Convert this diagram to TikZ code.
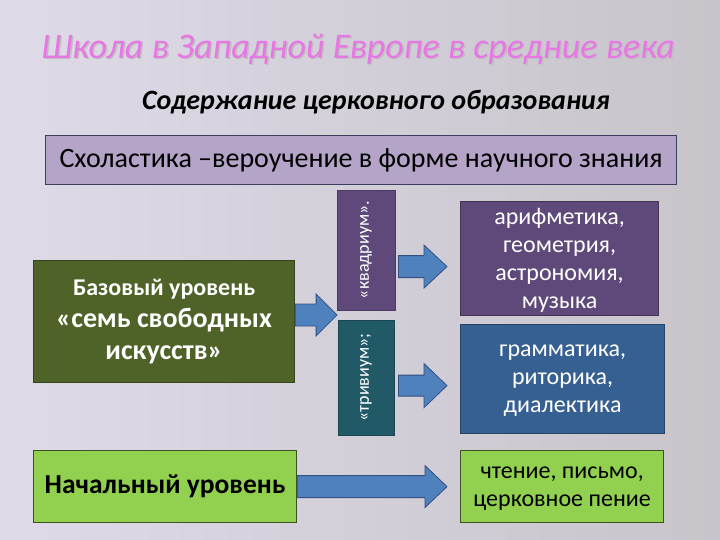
\documentclass[tikz,border=0pt]{standalone}
\usepackage{fontspec}
\setmainfont{Carlito}
\usetikzlibrary{calc}
\definecolor{bgl}{RGB}{222,218,232}
\definecolor{bgr}{RGB}{200,196,202}
\definecolor{titlec}{RGB}{232,118,228}
\definecolor{lav}{RGB}{180,164,200}
\definecolor{lavb}{RGB}{60,62,95}
\definecolor{olive}{RGB}{79,98,40}
\definecolor{purp}{RGB}{95,73,122}
\definecolor{teal}{RGB}{33,89,103}
\definecolor{bluebox}{RGB}{54,96,146}
\definecolor{lgreen}{RGB}{146,208,80}
\definecolor{arrf}{RGB}{79,129,189}
\definecolor{arrd}{RGB}{50,80,130}
\tikzset{
  box/.style={draw=#1, line width=1.2pt, rectangle, inner sep=2pt, align=center, anchor=north west},
  arr/.style={fill=arrf, draw=arrd, line width=0.8pt, line join=miter},
}
\newcommand\fatarrow[5]{%
  \draw[arr] ($(#1 |- #2)+(0,#3)$) -- ($(#2)+(-#5,#3)$) -- ($(#2)+(-#5,#4)$) -- (#2)
    -- ($(#2)+(-#5,-#4)$) -- ($(#2)+(-#5,-#3)$) -- ($(#1 |- #2)+(0,-#3)$) -- cycle;}
\begin{document}
\begin{tikzpicture}[x=1pt,y=-1pt]
\useasboundingbox (0,0) rectangle (720,540);
\shade[left color=bgl, right color=bgr] (0,0) rectangle (720,540);
% titles
\node[text=black!25, font=\fontsize{36}{40}\selectfont\itshape] (titleshadow) at (359.5,50.5) {Школа в Западной Европе в средние века};
\node[text=titlec, font=\fontsize{36}{40}\selectfont\itshape] (title) at (358,49) {Школа в Западной Европе в средние века};
\node[text=black, font=\fontsize{28}{32}\selectfont\bfseries\itshape] (sub) at (376,102) {Содержание церковного образования};
% scholastics
\node[box=lavb, fill=lav, minimum width=631, minimum height=49, font=\fontsize{28}{32}\selectfont] (schol) at (45,135) {Схоластика –вероучение в форме научного знания};
% base
\node[box=olive!70!black, fill=olive, minimum width=261, minimum height=122, text=white, font=\fontsize{28}{32}\selectfont\bfseries] (base) at (33,260)
  {{\fontsize{24}{32}\selectfont Базовый уровень}\\«семь свободных\\искусств»};
% vertical bars
\node[draw=purp!80!black, line width=0.8pt, fill=purp, rotate=90, minimum width=120, minimum height=58, text=white, font=\fontsize{18}{20}\selectfont] (quad) at (366,250) {«квадриум».};
\node[draw=teal!80!black, line width=0.8pt, fill=teal, rotate=90, minimum width=115, minimum height=56, text=white, font=\fontsize{18}{20}\selectfont] (triv) at (366,377.5) {«тривиум»;};
% right boxes
\node[box=purp!70!black, fill=purp, minimum width=198, minimum height=114, text=white, text depth=0pt, font=\fontsize{24}{28}\selectfont] (arith) at (460,201)
  {арифметика,\\геометрия,\\астрономия,\\музыка};
\node[box=bluebox!70!black, fill=bluebox, minimum width=204, minimum height=109, text=white, text depth=0pt, font=\fontsize{24}{28}\selectfont] (gram) at (460,324)
  {грамматика,\\риторика,\\диалектика};
% initial level
\node[box=lgreen!40!black, fill=lgreen, minimum width=263, minimum height=72, text=black, font=\fontsize{27.5}{32}\selectfont\bfseries] (init) at (33,450) {Начальный уровень};
\node[box=lgreen!40!black, fill=lgreen, minimum width=203, minimum height=72, text=black, text depth=0pt, font=\fontsize{24}{28}\selectfont] (read) at (460,450) {чтение, письмо,\\церковное пение};
% arrows
\coordinate (j) at ($(quad.north west)!0.5!(triv.north east)$);
\coordinate (qs) at ($(quad.south)+(3,16)$);
\coordinate (qe) at ($(arith.west)+(-13,8)$);
\coordinate (ts) at ($(triv.south)+(4,7.5)$);
\coordinate (te) at ($(gram.west)+(-13,6.5)$);
\coordinate (be) at ($(read.west)+(-13,0)$);
\fatarrow{base.east}{j}{11}{21}{21}
\fatarrow{qs}{qe}{11}{21.5}{23}
\fatarrow{ts}{te}{10.5}{22}{23}
\fatarrow{init.east}{be}{11}{21}{22}
\end{tikzpicture}
\end{document}
